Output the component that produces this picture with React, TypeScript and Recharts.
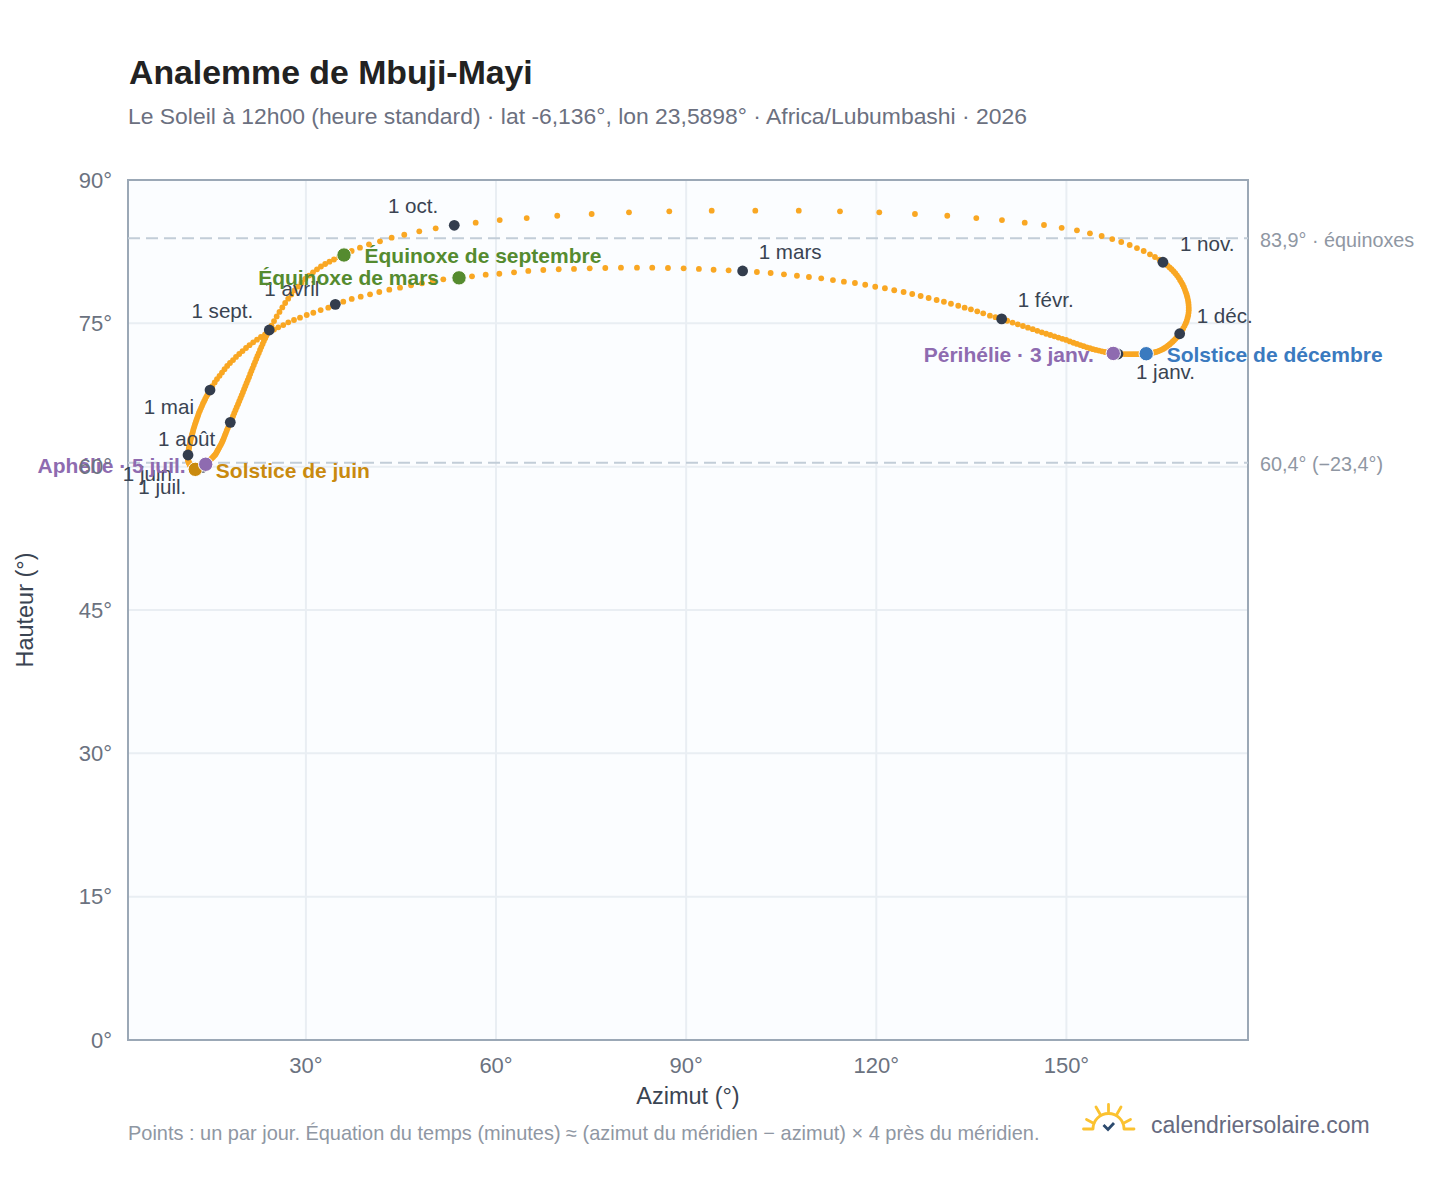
import { ScatterChart, Scatter, XAxis, YAxis, CartesianGrid, ReferenceLine, ReferenceArea } from 'recharts';

// one value per day, 1 Jan to 31 Dec 2026
const dailyAzimuth = [
  158.13, 157.75, 157.39, 156.96, 156.52, 156.08, 155.61, 155.13, 154.66, 154.19, 153.71, 153.22, 152.72, 152.2, 151.66, 151.11, 150.54, 149.96, 149.36, 148.74, 148.11, 147.46, 146.8, 146.12, 145.41, 144.69, 143.93, 143.14, 142.33, 141.5, 140.65,
  139.78, 138.8, 137.93, 136.87, 135.93, 134.93, 133.94, 132.93, 131.78, 130.67, 129.52, 128.26, 127.0, 125.67, 124.31, 122.83, 121.36, 119.83, 118.25, 116.63, 114.89, 113.16, 111.31, 109.37, 107.48, 105.43, 103.33, 101.16,
  98.91, 96.7, 94.33, 92.01, 89.6, 87.13, 84.65, 82.24, 79.71, 77.24, 74.78, 72.3, 69.89, 67.46, 65.09, 62.84, 60.52, 58.37, 56.21, 54.16, 51.68, 50.01, 48.32, 46.59, 44.85, 43.16, 41.58, 40.12, 38.65, 37.23, 35.9,
  34.64, 33.53, 32.33, 31.17, 30.13, 29.07, 28.12, 27.22, 26.43, 25.64, 24.97, 24.22, 23.55, 22.91, 22.28, 21.68, 21.1, 20.55, 20.0, 19.48, 18.97, 18.5, 18.02, 17.58, 17.16, 16.76, 16.37, 15.97, 15.61, 15.23,
  14.87, 14.68, 14.49, 14.3, 14.11, 13.94, 13.76, 13.61, 13.45, 13.29, 13.13, 13.01, 12.88, 12.75, 12.63, 12.5, 12.39, 12.28, 12.19, 12.09, 12.0, 11.9, 11.82, 11.76, 11.7, 11.63, 11.57, 11.52, 11.47, 11.44, 11.41,
  11.4, 11.38, 11.38, 11.38, 11.4, 11.43, 11.46, 11.49, 11.54, 11.59, 11.65, 11.71, 11.77, 11.85, 11.93, 12.01, 12.1, 12.2, 12.31, 12.42, 12.55, 12.66, 12.77, 12.88, 12.99, 13.1, 13.21, 13.33, 13.44, 13.55,
  13.66, 13.76, 13.87, 14.02, 14.19, 14.3, 14.43, 14.57, 14.71, 14.87, 15.03, 15.18, 15.36, 15.53, 15.69, 15.82, 15.94, 16.05, 16.18, 16.3, 16.43, 16.57, 16.71, 16.84, 16.97, 17.09, 17.22, 17.36, 17.5, 17.66, 17.82,
  18.07, 18.34, 18.5, 18.69, 18.89, 19.08, 19.29, 19.48, 19.68, 19.87, 20.06, 20.25, 20.44, 20.63, 20.82, 21.02, 21.21, 21.4, 21.59, 21.78, 21.97, 22.17, 22.36, 22.57, 22.76, 22.96, 23.17, 23.37, 23.58, 23.78, 24.0,
  24.22, 24.57, 24.97, 25.39, 25.83, 26.28, 26.73, 27.21, 27.7, 28.2, 28.75, 29.3, 29.89, 30.49, 31.12, 31.75, 32.38, 33.04, 33.72, 34.43, 35.22, 36.01, 37.22, 38.53, 39.95, 41.69, 43.53, 45.52, 47.89, 50.48,
  53.41, 56.79, 60.58, 64.84, 69.66, 75.09, 80.98, 87.34, 94.03, 100.91, 107.77, 114.27, 120.47, 126.1, 131.2, 135.78, 139.83, 143.42, 146.46, 149.25, 151.66, 153.71, 155.56, 157.23, 158.65, 159.98, 161.13, 162.19, 163.18, 163.97, 164.68,
  165.23, 165.6, 165.95, 166.28, 166.59, 166.89, 167.17, 167.44, 167.69, 167.93, 168.15, 168.35, 168.54, 168.7, 168.84, 168.97, 169.08, 169.17, 169.24, 169.28, 169.3, 169.3, 169.27, 169.21, 169.11, 168.99, 168.83, 168.64, 168.42, 168.17,
  167.87, 167.65, 167.43, 167.2, 166.97, 166.75, 166.51, 166.27, 166.02, 165.77, 165.51, 165.26, 164.99, 164.71, 164.43, 164.13, 163.81, 163.49, 163.18, 162.89, 162.59, 162.23, 161.85, 161.47, 161.1, 160.72, 160.34, 159.94, 159.55, 159.16, 158.67,
];

const dailyAltitude = [
  71.79, 71.81, 71.85, 71.88, 71.94, 72.0, 72.07, 72.15, 72.22, 72.3, 72.39, 72.49, 72.61, 72.72, 72.85, 72.97, 73.11, 73.26, 73.38, 73.51, 73.64, 73.78, 73.91, 74.06, 74.22, 74.39, 74.55, 74.72, 74.9, 75.08, 75.27,
  75.46, 75.64, 75.8, 76.05, 76.26, 76.47, 76.64, 76.84, 77.05, 77.26, 77.44, 77.65, 77.86, 78.07, 78.28, 78.46, 78.67, 78.83, 79.04, 79.22, 79.36, 79.53, 79.71, 79.85, 79.98, 80.13, 80.27, 80.37,
  80.48, 80.55, 80.61, 80.69, 80.76, 80.79, 80.82, 80.82, 80.82, 80.79, 80.76, 80.69, 80.66, 80.58, 80.48, 80.34, 80.19, 80.09, 79.92, 79.76, 79.61, 79.46, 79.19, 78.98, 78.73, 78.52, 78.28, 78.04, 77.79, 77.55, 77.27,
  76.99, 76.64, 76.39, 76.11, 75.87, 75.59, 75.35, 75.11, 74.82, 74.58, 74.35, 74.12, 73.85, 73.57, 73.29, 73.0, 72.71, 72.42, 72.1, 71.79, 71.48, 71.16, 70.85, 70.54, 70.2, 69.85, 69.51, 69.17, 68.81, 68.42,
  68.02, 67.79, 67.56, 67.33, 67.09, 66.85, 66.61, 66.37, 66.13, 65.89, 65.65, 65.41, 65.16, 64.92, 64.68, 64.44, 64.2, 63.96, 63.73, 63.5, 63.27, 63.04, 62.83, 62.62, 62.41, 62.22, 62.04, 61.85, 61.67, 61.51, 61.36,
  61.22, 61.09, 60.98, 60.86, 60.76, 60.67, 60.57, 60.49, 60.4, 60.32, 60.25, 60.17, 60.1, 60.04, 59.98, 59.92, 59.87, 59.83, 59.79, 59.76, 59.72, 59.71, 59.7, 59.7, 59.71, 59.72, 59.76, 59.79, 59.83, 59.87,
  59.92, 59.98, 60.04, 60.14, 60.25, 60.32, 60.4, 60.49, 60.59, 60.69, 60.79, 60.9, 61.02, 61.14, 61.26, 61.39, 61.53, 61.67, 61.82, 61.97, 62.13, 62.29, 62.47, 62.66, 62.86, 63.07, 63.29, 63.52, 63.76, 64.01, 64.27,
  64.64, 64.99, 65.28, 65.59, 65.91, 66.22, 66.54, 66.85, 67.16, 67.48, 67.79, 68.11, 68.42, 68.73, 69.05, 69.37, 69.7, 70.01, 70.32, 70.64, 70.95, 71.27, 71.58, 71.89, 72.21, 72.52, 72.84, 73.15, 73.44, 73.73, 74.02,
  74.3, 74.77, 75.24, 75.72, 76.19, 76.66, 77.13, 77.58, 78.02, 78.44, 78.85, 79.25, 79.64, 80.0, 80.34, 80.65, 80.95, 81.21, 81.45, 81.68, 81.92, 82.15, 82.57, 82.92, 83.27, 83.58, 83.96, 84.27, 84.63, 84.94,
  85.26, 85.53, 85.81, 86.02, 86.26, 86.44, 86.62, 86.72, 86.79, 86.79, 86.79, 86.72, 86.62, 86.44, 86.26, 86.02, 85.81, 85.53, 85.29, 85.0, 84.73, 84.42, 84.14, 83.82, 83.51, 83.2, 82.88, 82.57, 82.22, 81.94, 81.67,
  81.39, 81.21, 81.04, 80.85, 80.66, 80.45, 80.24, 80.02, 79.79, 79.54, 79.29, 79.04, 78.78, 78.51, 78.25, 77.99, 77.73, 77.46, 77.19, 76.92, 76.64, 76.37, 76.1, 75.83, 75.56, 75.28, 75.01, 74.74, 74.47, 74.2,
  73.91, 73.71, 73.54, 73.38, 73.22, 73.08, 72.93, 72.79, 72.67, 72.54, 72.43, 72.32, 72.23, 72.15, 72.07, 72.0, 71.95, 71.89, 71.86, 71.84, 71.82, 71.8, 71.79, 71.78, 71.77, 71.77, 71.77, 71.77, 71.78, 71.78, 71.79,
];

// day of year (0 = 1 Jan) for the first of each month and the dated events
const monthNames = ['1 janv.', '1 févr.', '1 mars', '1 avril', '1 mai', '1 juin', '1 juil.', '1 août', '1 sept.', '1 oct.', '1 nov.', '1 déc.'];
const monthDays = [0, 31, 59, 90, 120, 151, 181, 212, 243, 273, 304, 334];

const eventNames = ['Équinoxe de mars', 'Équinoxe de septembre', 'Solstice de juin', 'Solstice de décembre', 'Périhélie · 3 janv.', 'Aphélie · 5 juil.'];
const eventDays = [78, 264, 171, 354, 2, 185];

const xTicks = [30, 60, 90, 120, 150];
const yTicks = [0, 15, 30, 45, 60, 75, 90];
const xDomain = [1.93, 178.65];

const refAltitudes = [83.9, 60.4];
const refLabels = ['83,9° · équinoxes', '60,4° (−23,4°)'];

const FONT = '"Liberation Sans", Arial, Helvetica, sans-serif';

// dx, dy, anchor for each label, in the order of the name lists
const monthLabelPos: [number, number, 'start' | 'end'][] = [
  [18, 18, 'start'], [16, -19, 'start'], [16, -19, 'start'], [-16, -16, 'end'],
  [-16, 17, 'end'], [-16, 19, 'end'], [-16, 19, 'end'], [-15, 16, 'end'],
  [-16, -19, 'end'], [-16, -20, 'end'], [17, -18, 'start'], [17, -18, 'start'],
];
const eventLabelPos: [number, number, 'start' | 'end'][] = [
  [-20, 0, 'end'], [20.5, 1, 'start'], [20.5, 1, 'start'], [20.5, 1, 'start'], [-19.5, 1, 'end'], [-20, 1, 'end'],
];
const eventColors = ['#558b2f', '#558b2f', '#c98a0f', '#3a7abf', '#8e6bb0', '#8e6bb0'];

const dailyData = dailyAzimuth.map((az, i) => ({ az, alt: dailyAltitude[i] }));
const monthData = monthNames.map((name, i) => ({
  name, az: dailyAzimuth[monthDays[i]], alt: dailyAltitude[monthDays[i]], pos: monthLabelPos[i],
}));
const eventData = eventNames.map((name, i) => ({
  name, az: dailyAzimuth[eventDays[i]], alt: dailyAltitude[eventDays[i]], pos: eventLabelPos[i], color: eventColors[i],
}));

function DayDot({ cx, cy }: any) {
  return <circle cx={cx} cy={cy} r={2.9} fill="#f9a723" />;
}

function MonthMark({ cx, cy, payload }: any) {
  const [dx, dy, anchor] = payload.pos;
  return (
    <g>
      <circle cx={cx} cy={cy} r={5.4} fill="#333d4d" />
      <text x={cx + dx} y={cy + dy} dy="0.35em" textAnchor={anchor} fontSize={20.6} fontFamily={FONT} fill="#3a4452">
        {payload.name}
      </text>
    </g>
  );
}

function EventMark({ cx, cy, payload }: any) {
  const [dx, dy, anchor] = payload.pos;
  return (
    <g>
      <circle cx={cx} cy={cy} r={7.2} fill={payload.color} stroke="#ffffff" strokeWidth={1} />
      <text x={cx + dx} y={cy + dy} dy="0.35em" textAnchor={anchor} fontSize={21} fontWeight={700} fontFamily={FONT} fill={payload.color}>
        {payload.name}
      </text>
    </g>
  );
}

function AltitudeLabel({ viewBox }: any) {
  const y = viewBox.y + viewBox.height / 2;
  return (
    <text x={25} y={y} dy="0.35em" textAnchor="middle" transform={`rotate(-90 25 ${y})`} fontSize={23.5} fontFamily={FONT} fill="#3a4452">
      Hauteur (°)
    </text>
  );
}

function Logo() {
  return (
    <svg width={56} height={34} style={{ position: 'absolute', left: 1081, top: 1102 }} viewBox="0 0 56 34">
      <g fill="none" stroke="#fbc230" strokeWidth={2.8} strokeLinecap="round">
        <path d="M12 27 A15.5 15.5 0 0 1 43 27" />
        <path d="M2.5 27 H11 M44 27 H53" />
        <path d="M27.5 2.5 V9.5 M15 5 L19 12 M40 5 L36 12 M5.5 17.5 L13 21.5 M49.5 17.5 L42 21.5" />
      </g>
      <path d="M22.5 23 L27 27.5 L33 21" fill="none" stroke="#2c4a6e" strokeWidth={2.8} />
    </svg>
  );
}

export default function App() {
  return (
    <div style={{ position: 'absolute', left: 0, top: 0, width: 1448, height: 1188, background: '#ffffff', fontFamily: FONT, overflow: 'hidden' }}>
      <ScatterChart width={1448} height={1188} margin={{ top: 180, right: 200, bottom: 108, left: 68 }}>
        <CartesianGrid fill="#fbfdff" stroke="#e9eef3" strokeWidth={2} />
        <XAxis
          type="number"
          dataKey="az"
          domain={xDomain}
          ticks={xTicks}
          height={40}
          axisLine={false}
          tickLine={false}
          tickMargin={11}
          tickFormatter={(v) => `${v}°`}
          tick={{ fontSize: 22, fill: '#6b7280', fontFamily: FONT }}
          label={{ value: 'Azimut (°)', position: 'bottom', offset: 7, fontSize: 23.5, fill: '#3a4452', fontFamily: FONT }}
        />
        <YAxis
          type="number"
          dataKey="alt"
          domain={[0, 90]}
          ticks={yTicks}
          width={60}
          axisLine={false}
          tickLine={false}
          tickMargin={10}
          tickFormatter={(v) => `${v}°`}
          tick={{ fontSize: 22, fill: '#6b7280', fontFamily: FONT }}
          label={AltitudeLabel}
        />
        <ReferenceArea x1={xDomain[0]} x2={xDomain[1]} y1={0} y2={90} fill="none" stroke="#9ba8b6" strokeWidth={2} />
        {refAltitudes.map((y, i) => (
          <ReferenceLine
            key={y}
            y={y}
            stroke="#c2cdd8"
            strokeWidth={2}
            strokeDasharray="12 6"
            label={{ value: refLabels[i], position: 'right', offset: 12, dy: 1.5, fontSize: 19.8, fill: '#8f97a3', fontFamily: FONT }}
          />
        ))}
        <Scatter data={dailyData} shape={DayDot} isAnimationActive={false} />
        <Scatter data={monthData} shape={MonthMark} isAnimationActive={false} />
        <Scatter data={eventData} shape={EventMark} isAnimationActive={false} />
      </ScatterChart>

      <div style={{ position: 'absolute', left: 129, top: 52, fontSize: 33.8, lineHeight: '40px', fontWeight: 700, color: '#222222', whiteSpace: 'nowrap' }}>
        Analemme de Mbuji-Mayi
      </div>
      <div style={{ position: 'absolute', left: 128, top: 103, fontSize: 22.9, lineHeight: '26px', color: '#6b7080', whiteSpace: 'nowrap' }}>
        Le Soleil à 12h00 (heure standard) · lat -6,136°, lon 23,5898° · Africa/Lubumbashi · 2026
      </div>
      <div style={{ position: 'absolute', left: 128, top: 1121, fontSize: 19.97, lineHeight: '24px', color: '#8f97a3', whiteSpace: 'nowrap' }}>
        Points : un par jour. Équation du temps (minutes) ≈ (azimut du méridien − azimut) × 4 près du méridien.
      </div>
      <Logo />
      <div style={{ position: 'absolute', left: 1151, top: 1111, fontSize: 23, lineHeight: '28px', color: '#666a80', whiteSpace: 'nowrap' }}>
        calendriersolaire.com
      </div>
    </div>
  );
}
